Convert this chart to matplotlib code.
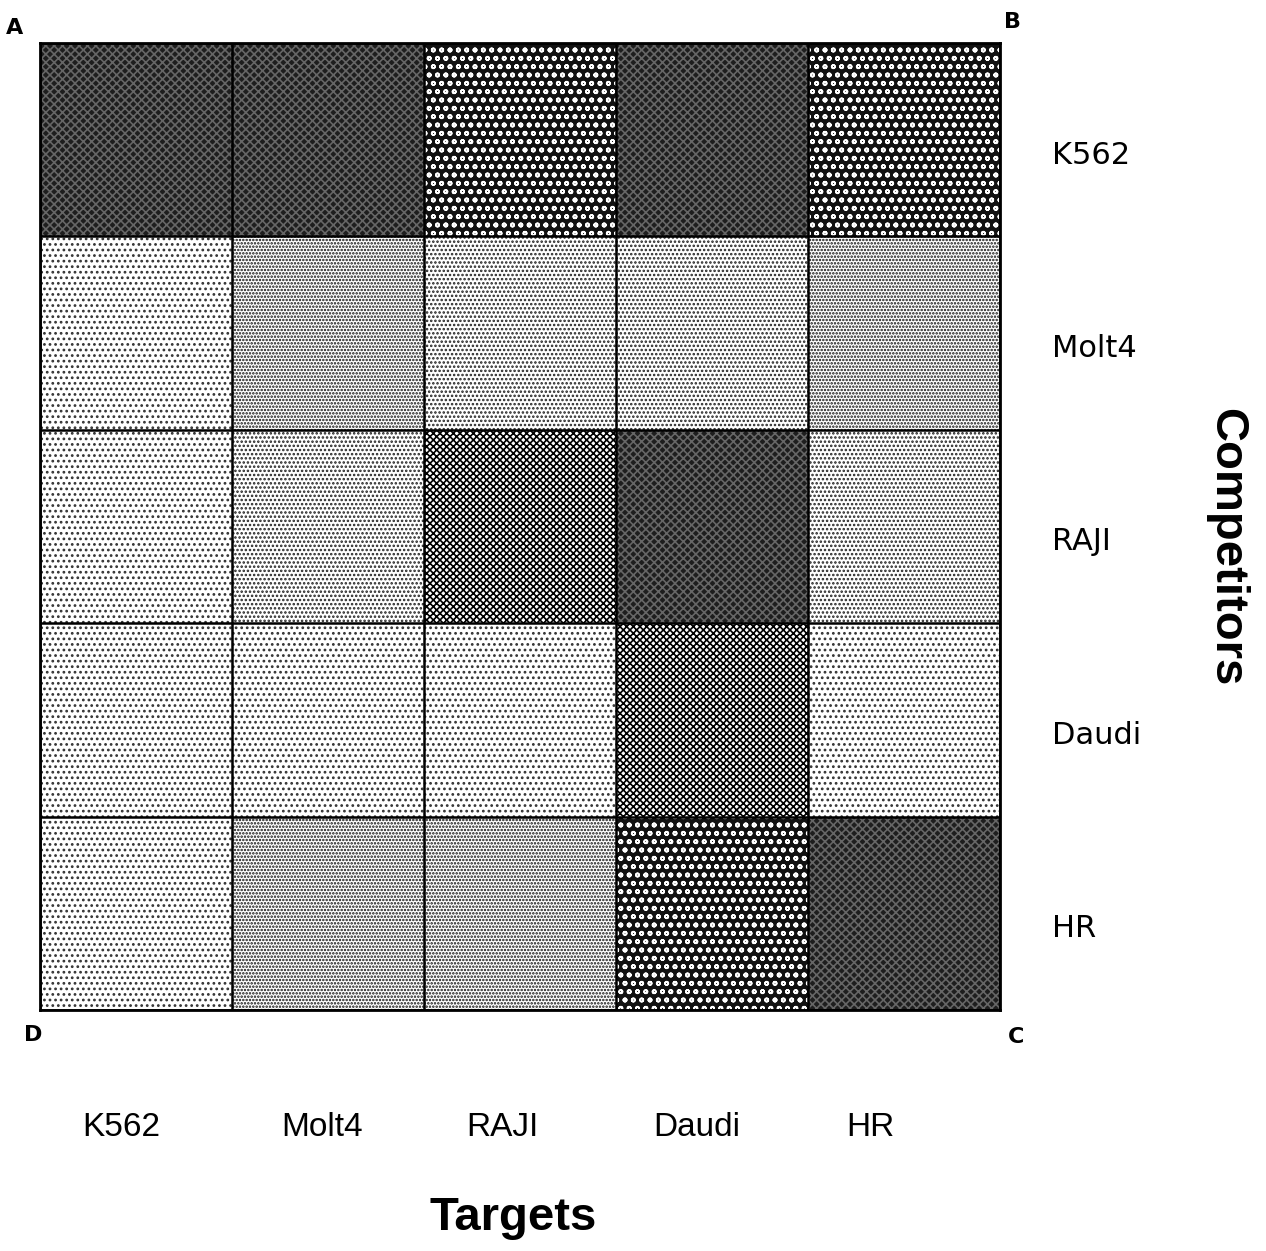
import numpy as np
import matplotlib.pyplot as plt

# Competitors (rows, top to bottom) vs targets (columns), shading level 1 (light) .. 6 (dark)
competitors = ["K562", "Molt4", "RAJI", "Daudi", "HR"]
targets = ["K562", "Molt4", "RAJI", "Daudi", "HR"]
levels = [
    [6, 6, 5, 6, 5],
    [1, 3, 2, 2, 3],
    [1, 2, 4, 6, 2],
    [1, 1, 1, 4, 1],
    [1, 3, 3, 5, 6],
]

# fill style for each shading level: (face, hatch, hatch colour)
styles = {
    1: ("white", "...", "#333333"),
    2: ("white", "....", "#222222"),
    3: ("white", ".....", "#111111"),
    4: ("white", "xxxxx", "black"),
    5: ("#111111", "oo", "white"),
    6: ("#1e1e1e", "xxxx", "#666666"),
}

plt.rcParams['hatch.linewidth'] = 1.2

fig = plt.figure(figsize=(12.66, 12.51), dpi=100)
W, H = 1266, 1251
ax = fig.add_axes([40 / W, 1 - 1010 / H, 960 / W, 967 / H])

n = len(targets)
for r, row in enumerate(levels):
    for c, lv in enumerate(row):
        face, hatch, hc = styles[lv]
        ax.bar(c, 1, bottom=n - 1 - r, width=1, align='edge',
               color=face, hatch=hatch, edgecolor=hc, linewidth=0)

for k in range(n + 1):
    ax.axvline(k, color='black', lw=1.8)
    ax.axhline(k, color='black', lw=1.8)

ax.set_xlim(0, n)
ax.set_ylim(0, n)
ax.set_xticks([])
ax.set_yticks([])
for s in ax.spines.values():
    s.set_linewidth(2)

# corner letters
fig.text(15 / W, 1 - 28 / H, "A", fontsize=16, fontweight='bold', ha='center', va='center')
fig.text(1012 / W, 1 - 22 / H, "B", fontsize=16, fontweight='bold', ha='center', va='center')
fig.text(1016 / W, 1 - 1037 / H, "C", fontsize=16, fontweight='bold', ha='center', va='center')
fig.text(33 / W, 1 - 1035 / H, "D", fontsize=16, fontweight='bold', ha='center', va='center')

# competitor labels on the right
for r, name in enumerate(competitors):
    ax.text(n + 0.27, n - 0.5 - r - 0.08, name, fontsize=22,
            ha='left', va='center', family='DejaVu Sans', clip_on=False)

# target labels below
target_x = [121, 322, 502, 697, 870]
for x, name in zip(target_x, targets):
    fig.text(x / W, 1 - 1127 / H, name, fontsize=24, ha='center', va='center',
             family='Liberation Sans')

fig.text(513 / W, 1 - 1218 / H, "Targets", fontsize=34, fontweight='bold',
         ha='center', va='center', family='Liberation Sans')
fig.text(1226 / W, 1 - 547 / H, "Competitors", fontsize=34, fontweight='bold',
         ha='center', va='center', rotation=-90, family='Liberation Sans')

fig.savefig("out.png", dpi=100)
